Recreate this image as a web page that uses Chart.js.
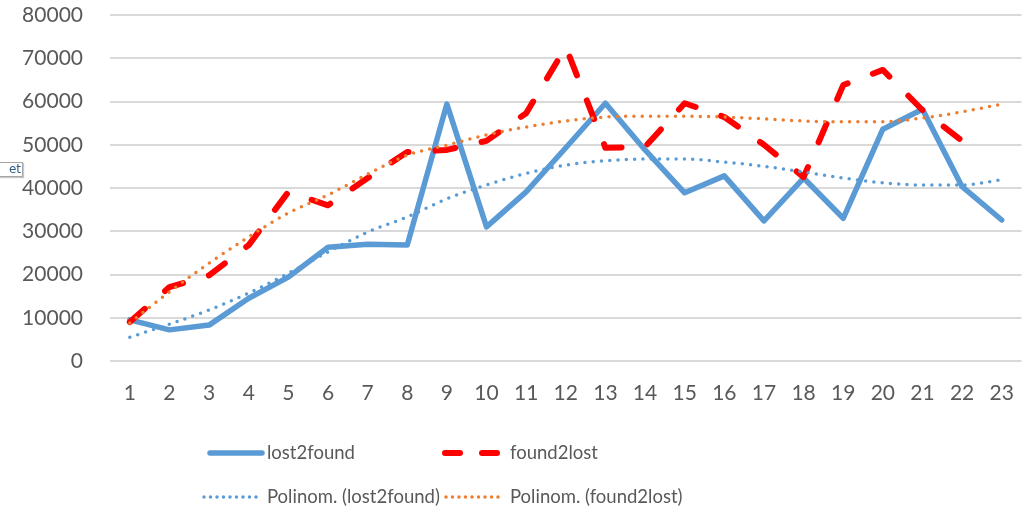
<!DOCTYPE html>
<html>
<head>
<meta charset="utf-8">
<script src="https://cdn.jsdelivr.net/npm/chart.js@4/dist/chart.umd.min.js"></script>
<style>
  html, body { margin: 0; padding: 0; background: #fff; }
  #wrap { position: relative; width: 1026px; height: 517px; overflow: hidden; }
  #tip {
    position: absolute; left: -6px; top: 162px; width: 26px; height: 13px;
    border: 1px solid #a6a6a6; background: #fff; box-shadow: 1px 1px 1px #c8c8c8;
    font: 12px "DejaVu Sans", sans-serif; color: #2e5f8a; line-height: 13px; text-align: right;
    padding-right: 1px; box-sizing: content-box;
  }
</style>
</head>
<body>
<div id="wrap">
  <canvas id="chart" width="1026" height="517"></canvas>
  <div id="tip">et</div>
</div>
<script>
/* ---------- data ---------- */
const labels = ['1','2','3','4','5','6','7','8','9','10','11','12','13','14','15','16','17','18','19','20','21','22','23'];

const lost2found = [9500, 7200, 8300, 14500, 19400, 26300, 27000, 26800, 59400, 31000, 39100, 49300,
                    59600, 48800, 38900, 42800, 32400, 42300, 33000, 53600, 58200, 40300, 32600];

const found2lost = [9000, 17100, 19800, 26800, 39100, 36000, 42300, 48300, 48800, 50900, 57300, 72600,
                    49300, 49500, 59600, 56400, 50000, 42500, 63800, 67300, 58000, 50900, null];

const trendLost2found = [5500, 8500, 11800, 15700, 20300, 25200, 29800, 33300, 37500, 40700, 43400, 45300,
                         46300, 46700, 46700, 46000, 45000, 43700, 42300, 41200, 40700, 40700, 41900];

const trendFound2lost = [8800, 16000, 22600, 28700, 34200, 38400, 43200, 47600, 49900, 52300, 54100, 55500,
                         56400, 56600, 56600, 56400, 56000, 55500, 55300, 55300, 56200, 57600, 59400];

const yTicks = [0, 10000, 20000, 30000, 40000, 50000, 60000, 70000, 80000];

/* ---------- styles ---------- */
const BLUE = '#5b9bd5';
const RED = '#ff0000';
const ORANGE = '#ed7d31';
const TXT = '#595959';
const FONT = 'Lato, "Open Sans", sans-serif';

/* ---------- legend (drawn on canvas, 2x2 like Excel) ---------- */
const legendSpots = [
  { x0: 210, x1: 262, tx: 267, y: 453 },
  { x0: 445, x1: 502, tx: 510, y: 453 },
  { x0: 204, x1: 258, tx: 267, y: 497 },
  { x0: 446, x1: 502, tx: 510, y: 497 }
];

const legendPlugin = {
  id: 'xlLegend',
  afterDraw(chart) {
    const ctx = chart.ctx;
    chart.data.datasets.forEach((ds, i) => {
      const s = legendSpots[i];
      ctx.save();
      ctx.strokeStyle = ds.borderColor;
      ctx.lineWidth = ds.borderWidth;
      ctx.lineCap = 'round';
      ctx.setLineDash(ds.legendDash || []);
      ctx.beginPath();
      ctx.moveTo(s.x0, s.y);
      ctx.lineTo(s.x1, s.y);
      ctx.stroke();
      ctx.setLineDash([]);
      ctx.fillStyle = TXT;
      ctx.font = '18.5px ' + FONT;
      ctx.textBaseline = 'middle';
      ctx.fillText(ds.label, s.tx, s.y);
      ctx.restore();
    });
  }
};

/* ---------- chart ---------- */
new Chart(document.getElementById('chart'), {
  type: 'line',
  data: {
    labels,
    datasets: [
      { label: 'lost2found', data: lost2found, borderColor: BLUE, borderWidth: 5.5,
        borderCapStyle: 'round', borderJoinStyle: 'round', pointRadius: 0, tension: 0, order: 2 },
      { label: 'found2lost', data: found2lost, borderColor: RED, borderWidth: 6,
        borderDash: [20, 27], legendDash: [15, 22], borderCapStyle: 'round', borderJoinStyle: 'round',
        pointRadius: 0, tension: 0, order: 1 },
      { label: 'Polinom. (lost2found)', data: trendLost2found, borderColor: BLUE, borderWidth: 3.5,
        borderDash: [0, 8.3], legendDash: [0, 6.5], borderCapStyle: 'round', pointRadius: 0,
        cubicInterpolationMode: 'monotone', order: 0 },
      { label: 'Polinom. (found2lost)', data: trendFound2lost, borderColor: ORANGE, borderWidth: 3.5,
        borderDash: [0, 8.3], legendDash: [0, 6.5], borderCapStyle: 'round', pointRadius: 0,
        cubicInterpolationMode: 'monotone', order: 0 }
    ]
  },
  options: {
    responsive: false,
    animation: false,
    layout: { padding: { top: 15, right: 3, bottom: 106, left: 0 } },
    plugins: { legend: { display: false }, tooltip: { enabled: false } },
    scales: {
      x: {
        offset: true,
        grid: { display: false },
        border: { display: false },
        ticks: { color: TXT, font: { family: FONT, size: 21 }, padding: 12, maxRotation: 0, autoSkip: false },
        afterFit(axis) { axis.height = 50; }
      },
      y: {
        min: 0, max: 80000,
        afterBuildTicks(axis) { axis.ticks = yTicks.map(v => ({ value: v })); },
        grid: { color: '#d9d9d9', lineWidth: 2, drawTicks: false },
        border: { display: false },
        ticks: { color: TXT, font: { family: FONT, size: 21 }, padding: 27, callback: v => String(v) },
        afterFit(axis) { axis.width = 110; axis.paddingTop = 0; axis.paddingBottom = 0; }
      }
    }
  },
  plugins: [legendPlugin]
});
</script>
</body>
</html>
